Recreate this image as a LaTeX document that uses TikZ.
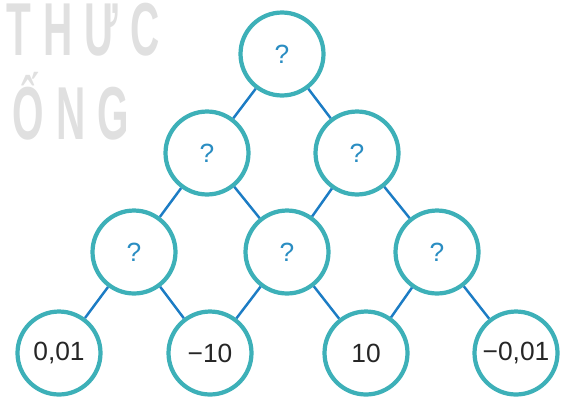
\documentclass[tikz,border=0pt]{standalone}
\usepackage{fontspec}
\setmainfont{Liberation Sans}
\newfontfamily\wmfont[LetterSpace=30]{Liberation Sans}
\usetikzlibrary{positioning}
\definecolor{ringteal}{HTML}{3DB0B8}
\definecolor{edgeblue}{HTML}{1C7CC4}
\definecolor{qblue}{HTML}{2A8DC2}
\definecolor{numgray}{HTML}{262626}
\definecolor{wmgray}{HTML}{E0E0E0}
\tikzset{ball/.style={circle,draw=ringteal,line width=2.4pt,fill=white,minimum size=1.66cm,inner sep=0pt,font=\fontsize{15}{17}\selectfont},
         ask/.style={ball,text=qblue},
         given/.style={ball,text=numgray},
         link/.style={edgeblue,line width=1.4pt},
         wm/.style={inner sep=0pt,text=wmgray,xscale=0.54,transform shape,anchor=base west,font=\wmfont\bfseries\fontsize{42.7}{43}\selectfont},
}

\begin{document}
\begin{tikzpicture}[x=0.02cm,y=-0.02cm]
\useasboundingbox (0,0) rectangle (563,396);
% watermark
\node[wm] (wm1) at (6,55) {THỨC};
\node[wm] (wm2) at (-27,139) {SỐNG};

% pyramid
\node[ask] (top) at (282,54) {?};
\node[ask] (l1a) at (207,153) {?};
\node[ask] (l1b) at (357,153) {?};
\node[ask] (l2a) at (134,252) {?};
\node[ask] (l2b) at (287,252) {?};
\node[ask] (l2c) at (437,252) {?};
\node[given] (l3a) at (59,353) {0,01};
\node[given] (l3b) at (210,353) {−10};
\node[given] (l3c) at (366,353) {10};
\node[given] (l3d) at (516,353) {−0,01};

\draw[link] (top) -- (l1a);
\draw[link] (top) -- (l1b);
\draw[link] (l1a) -- (l2a);
\draw[link] (l1a) -- (l2b);
\draw[link] (l1b) -- (l2b);
\draw[link] (l1b) -- (l2c);
\draw[link] (l2a) -- (l3a);
\draw[link] (l2a) -- (l3b);
\draw[link] (l2b) -- (l3b);
\draw[link] (l2b) -- (l3c);
\draw[link] (l2c) -- (l3c);
\draw[link] (l2c) -- (l3d);
\end{tikzpicture}
\end{document}
